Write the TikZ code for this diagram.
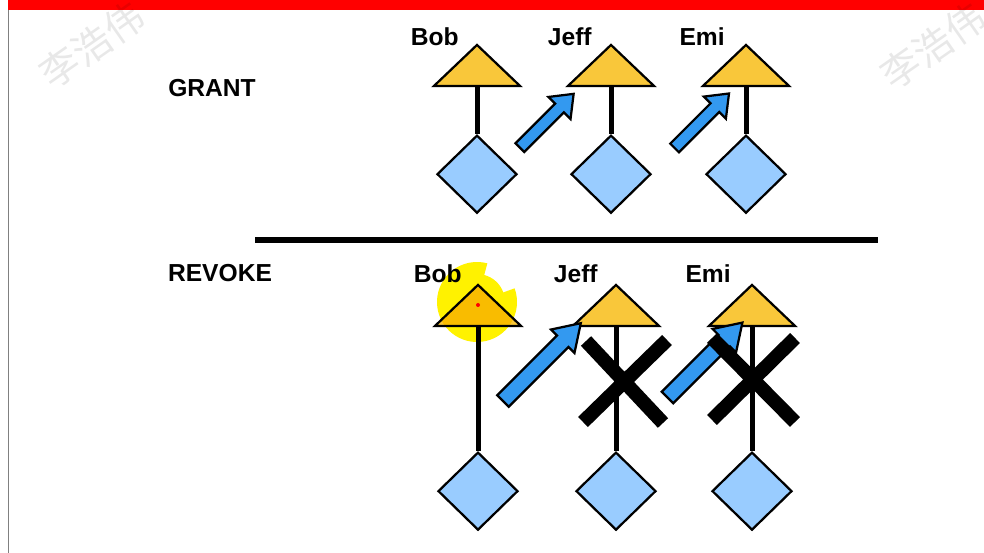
\documentclass[tikz,border=0pt]{standalone}
\usepackage{fontspec}
\setmainfont{Liberation Sans}
\newfontfamily\cjk{Noto Sans CJK SC}
\usetikzlibrary{positioning,shapes.geometric,shapes.arrows}
\definecolor{owner}{HTML}{F9C73A}
\definecolor{priv}{HTML}{99CCFF}
\definecolor{passblue}{HTML}{3399F0}
\definecolor{banner}{HTML}{FF0000}

\begin{document}
\begin{tikzpicture}[x=0.02cm,y=-0.02cm]
	\tikzstyle{every node}=[font=\fontsize{14}{16}\selectfont\bfseries]
	\tikzstyle{user}=[draw, line width=0.045cm, fill=owner, isosceles triangle, shape border rotate=90, isosceles triangle stretches, minimum width=1.72cm, minimum height=0.82cm, inner sep=0pt]
	\tikzstyle{obj}=[draw, line width=0.045cm, fill=priv, diamond, minimum width=1.6cm, minimum height=1.56cm, inner sep=0pt]
	\tikzstyle{who}=[anchor=base east, inner sep=0pt]
	\tikzstyle{stick}=[line width=0.1cm]
	\tikzstyle{pass}=[draw, line width=0.045cm, fill=passblue, single arrow, rotate=45, inner xsep=0pt]
	\tikzstyle{cross}=[line width=0.28cm]
	\tikzstyle{wmark}=[font=\cjk\fontsize{22}{22}\selectfont, text=black, text opacity=0.09, rotate=35]

	\useasboundingbox (0,0) rectangle (984,553);
	\fill[white] (0,0) rectangle (984,553);
	\fill[banner] (8,0) rectangle (984,10);
	\draw[gray, line width=0.03cm] (8.5,10) -- (8.5,553);

	% grant
	\node (grant) at (212,88) {GRANT};
	\node[user, anchor=apex] (gB) at (477,42) {};
	\node[user, anchor=apex] (gJ) at (611,42) {};
	\node[user, anchor=apex] (gE) at (746,42) {};
	\node[obj, below=0.94cm of gB] (oB) {};
	\node[obj, below=0.94cm of gJ] (oJ) {};
	\node[obj, below=0.94cm of gE] (oE) {};
	\draw[stick] (gB) -- (oB);
	\draw[stick] (gJ) -- (oJ);
	\draw[stick] (gE) -- (oE);
	\node[who] (nB) at ([xshift=-0.36cm,yshift=-0.08cm]gB.apex) {Bob};
	\node[who] (nJ) at ([xshift=-0.38cm,yshift=-0.08cm]gJ.apex) {Jeff};
	\node[who] (nE) at ([xshift=-0.42cm,yshift=-0.08cm]gE.apex) {Emi};
	\node[pass, minimum height=1.52cm, inner ysep=0.1cm, single arrow head extend=0.19cm, single arrow tip angle=76] (aJ) at (544,123.5) {};
	\node[pass, minimum height=1.54cm, inner ysep=0.1cm, single arrow head extend=0.19cm, single arrow tip angle=76] (aE) at (699,123.5) {};

	\draw[line width=0.12cm] (255,240) -- (878,240);

	% revoke
	\node (revoke) at (220,273) {REVOKE};
	\node[user, anchor=apex] (rB) at (478,282) {};
	\node[user, anchor=apex] (rJ) at (616,282) {};
	\node[user, anchor=apex] (rE) at (752,282) {};
	\node[obj, below=2.48cm of rB] (qB) {};
	\node[obj, below=2.48cm of rJ] (qJ) {};
	\node[obj, below=2.48cm of rE] (qE) {};
	\draw[stick] (rB) -- (qB);
	\draw[stick] (rJ) -- (qJ);
	\draw[stick] (rE) -- (qE);
	\node[who] (mB) at ([xshift=-0.32cm,yshift=-0.02cm]rB.apex) {Bob};
	\node[who] (mJ) at ([xshift=-0.36cm,yshift=-0.02cm]rJ.apex) {Jeff};
	\node[who] (mE) at ([xshift=-0.42cm,yshift=-0.02cm]rE.apex) {Emi};
	\fill[yellow, blend mode=multiply] (477,302) ++(-75:40) arc[start angle=-75, end angle=-380, radius=40] -- ++(160:12) arc[start angle=-20, end angle=-75, radius=28] -- cycle;
	\fill[red] (478,305) circle (2);
	\node[pass, minimum height=2.2cm, inner ysep=0.14cm, single arrow head extend=0.17cm, single arrow tip angle=66] (bJ) at (537.5,366.5) {};
	\node[pass, minimum height=2.12cm, inner ysep=0.14cm, single arrow head extend=0.17cm, single arrow tip angle=66] (bE) at (700.5,364.5) {};
	\draw[cross] (586,341) -- (663,423) (667,340) -- (583,422);
	\draw[cross] (712,338) -- (795,422) (795,338) -- (712,420);

	\node[wmark] (w1) at (92,45) {李浩伟};
	\node[wmark] (w2) at (933,46) {李浩伟};
\end{tikzpicture}
\end{document}
